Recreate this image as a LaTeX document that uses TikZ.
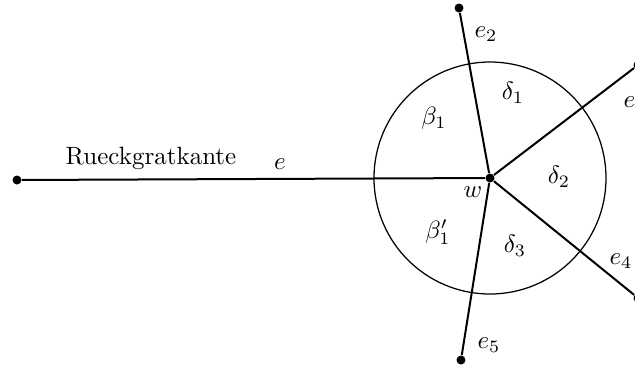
\documentclass[tikz,border=0pt]{standalone}
\usetikzlibrary{positioning}

\begin{document}
\begin{tikzpicture}[
    x=0.4pt, y=-0.4pt,
    dot/.style={circle, fill=black, inner sep=0pt, minimum size=3.6pt},
    edgeline/.style={thick, black},
    lbl/.style={inner sep=1pt},
]
\useasboundingbox (0,0) rectangle (635,369);

% ---- Vertex w and circle ----
\node[dot] (w) at (490,178) {};
\draw[line width=0.5pt] (w.center) circle (116);

% ---- End points ----
\node[dot] (left) at (17,180) {};
\node[dot] (end2) at (459,8) {};
\node[dot] (end1) at (638,65) {};
\node[dot] (end4) at (638,298) {};
\node[dot] (end5) at (461,360) {};

% Edges from w
\draw[edgeline] (left) -- (w);
\draw[edgeline] (w) -- (end2);
\draw[edgeline] (w) -- (end1);
\draw[edgeline] (w) -- (end4);
\draw[edgeline] (w) -- (end5);

% ---- Labels ----
\node[lbl] (rgk) at (151,158) {Rueckgratkante};
\node[lbl] (le) at (280,164) {$e$};
\node[lbl] (lw) at (473,192) {$w$};
\node[lbl] (le2) at (486,34) {$e_2$};
\node[lbl] (le1) at (635,104) {$e_1$};
\node[lbl] (le4) at (621,261) {$e_4$};
\node[lbl] (le5) at (489,345) {$e_5$};
\node[lbl] (lb1) at (434,118) {$\beta_1$};
\node[lbl] (lb1p) at (438,232) {$\beta_1'$};
\node[lbl] (ld1) at (513,93) {$\delta_1$};
\node[lbl] (ld2) at (559,177) {$\delta_2$};
\node[lbl] (ld3) at (515,246) {$\delta_3$};

\end{tikzpicture}
\end{document}
